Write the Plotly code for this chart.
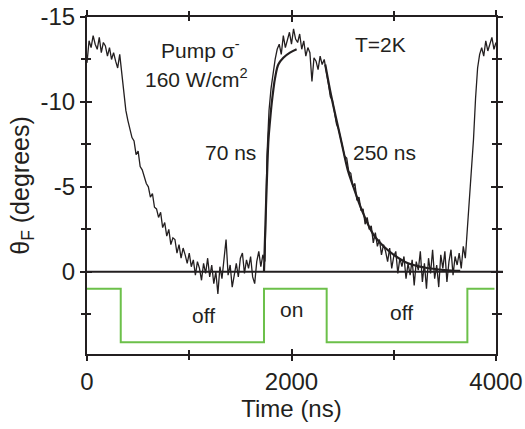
import plotly.graph_objects as go

# ---- data ----
t_step = 20  # ns sampling of the measured trace
theta_data = [
    -12.3, -13.6, -13.2, -13.9, -13.4, -13.1, -13.8, -12.9, -13.5, -13.3,   # 0-180
    -12.7, -13.2, -12.5, -12.9, -12.4, -12.0, -12.8, -11.7, -10.4, -9.5,    # 200-380
    -8.9, -8.4, -7.9, -7.7, -6.9, -7.1, -6.2, -6.0, -5.6, -5.2,             # 400-580
    -5.0, -4.4, -4.6, -3.8, -3.7, -3.2, -3.5, -2.6, -2.9, -2.1,             # 600-780
    -2.5, -1.6, -2.0, -1.9, -1.1, -1.6, -0.8, -1.4, -1.0, -0.5,             # 800-980
    -1.1, -0.3, -0.7, 0.2, -0.6, -0.2, 0.5, -0.5, 0.1, -0.8,                # 1000-1180
    0.3, -0.4, 0.7, 0.0, 1.3, -0.3, 0.4, -0.6, -1.9, 0.2,                   # 1200-1380
    -0.4, 0.9, 0.1, -0.5, 0.3, -0.8, -1.1, 0.1, -0.7, -0.2,                 # 1400-1580
    -0.9, 0.3, 0.7, -0.6, -1.2, -0.3, -1.0, -0.6, -6.8, -9.5,               # 1600-1780
    -10.8, -11.7, -12.5, -13.1, -13.4, -12.8, -13.9, -13.2, -13.6, -14.1,   # 1800-1980
    -13.4, -14.3, -13.7, -13.5, -14.0, -13.1, -13.6, -12.7, -13.2, -12.9,   # 2000-2180
    -11.2, -12.6, -12.4, -11.9, -12.7, -12.2, -12.5, -11.9, -11.1, -10.3,   # 2200-2380
    -10.1, -9.4, -8.7, -8.4, -7.8, -7.4, -6.8, -6.7, -5.9, -5.8,            # 2400-2580
    -5.0, -5.2, -4.2, -4.4, -3.6, -3.7, -2.8, -3.2, -2.5, -2.7,             # 2600-2780
    -1.7, -2.3, -1.5, -1.9, -1.0, -1.6, -1.2, -0.6, -1.4, -0.2,             # 2800-2980
    -0.9, -1.2, 0.1, -0.8, -0.3, -0.9, 0.4, -0.5, 0.2, -0.7,                # 3000-3180
    0.8, -0.6, -0.1, -1.2, 0.6, -0.5, 1.0, -0.8, 0.1, -1.3,                 # 3200-3380
    0.4, -0.4, 0.9, -1.0, -0.2, -1.2, 0.6, -0.6, -1.3, 0.2,                 # 3400-3580
    -0.9, -0.4, -1.1, -0.2, -1.5, -0.8, -2.5, -4.3, -6.3, -7.8,             # 3600-3780
    -10.2, -12.0, -12.8, -13.2, -12.7, -13.6, -13.0, -13.4, -13.8, -13.1,   # 3800-3980
    -13.5,                                                                   # 4000
]
time_data = [i * t_step for i in range(len(theta_data))]

# fit curves (70 ns rise, 250 ns decay)
rise_t = [1731, 1745, 1757, 1775, 1790, 1806, 1822, 1839, 1871, 1920, 1985, 2050]
rise_v = [0.0, -2.8, -5.0, -7.8, -8.9, -9.9, -10.7, -11.4, -12.2, -12.6, -12.9, -13.1]
decay_t = [2330, 2380, 2430, 2490, 2550, 2600, 2690, 2800, 2900, 3000, 3140, 3300, 3500, 3650]
decay_v = [-12.2, -10.6, -9.2, -7.6, -6.0, -5.1, -3.6, -2.2, -1.5, -1.0, -0.5, -0.25, -0.1, -0.05]

# pump on/off trace (drawn in lower part of axis)
pump_t = [0, 330, 330, 1731, 1731, 2344, 2344, 3720, 3720, 3985]
pump_v = [1.0, 1.0, 4.15, 4.15, 1.0, 1.0, 4.15, 4.15, 1.0, 1.0]

x_ticks = [0, 2000, 4000]
x_minor = [1000, 3000]
y_ticks = [-15, -10, -5, 0]
y_minor = [-12.5, -7.5, -2.5, 2.5]
y_range = [4.84, -15]
x_range = [0, 4000]

FONT = "Liberation Sans, Arial, sans-serif"
INK = "#231f20"
GREEN = "#6cc04a"

fig = go.Figure()
fig.add_trace(go.Scatter(x=pump_t, y=pump_v, mode="lines",
                         line=dict(color=GREEN, width=2), showlegend=False))
fig.add_trace(go.Scatter(x=time_data, y=theta_data, mode="lines",
                         line=dict(color=INK, width=1.3), showlegend=False))
fig.add_trace(go.Scatter(x=rise_t, y=rise_v, mode="lines",
                         line=dict(color=INK, width=2.2, shape="spline"), showlegend=False))
fig.add_trace(go.Scatter(x=decay_t, y=decay_v, mode="lines",
                         line=dict(color=INK, width=2.2, shape="spline"), showlegend=False))
# invisible trace on overlay axes so they render
fig.add_trace(go.Scatter(x=[None], y=[None], xaxis="x2", yaxis="y2", showlegend=False))

# zero line extending slightly past right axis
fig.add_shape(type="line", xref="paper", yref="y", x0=0, x1=1.017, y0=0, y1=0,
              line=dict(color=INK, width=2), layer="above")

axis_common = dict(showline=True, linecolor=INK, linewidth=2, mirror="allticks",
                   tickcolor=INK, tickwidth=1.5, showgrid=False, zeroline=False,
                   automargin=False,
                   tickfont=dict(family=FONT, size=24, color=INK))

fig.update_layout(
    width=525, height=429,
    margin=dict(l=87, r=29, t=17, b=75),
    paper_bgcolor="white", plot_bgcolor="white",
    font=dict(family=FONT, color=INK),
    xaxis=dict(range=x_range, tickvals=x_ticks, ticks="outside", ticklen=5,
               minor=dict(tickvals=x_minor, ticks="outside", ticklen=4, tickcolor=INK),
               title=dict(text="Time (ns)", font=dict(family=FONT, size=24, color=INK), standoff=4),
               **axis_common),
    yaxis=dict(range=y_range, tickvals=y_ticks, ticks="outside", ticklen=5,
               ticktext=["-15", "-10", "-5", "0"],
               minor=dict(tickvals=y_minor, ticks="outside", ticklen=4, tickcolor=INK),
               title=dict(text="θ<sub>F</sub> (degrees)", font=dict(family=FONT, size=25, color=INK),
                          standoff=4),
               **axis_common),
    xaxis2=dict(range=x_range, overlaying="x", tickvals=x_ticks, ticks="inside", ticklen=5,
                showticklabels=False, showline=False, showgrid=False, zeroline=False,
                tickcolor=INK, tickwidth=1.5, mirror="allticks",
                minor=dict(tickvals=x_minor, ticks="inside", ticklen=4, tickcolor=INK)),
    yaxis2=dict(range=y_range, overlaying="y", tickvals=y_ticks, ticks="inside", ticklen=5,
                showticklabels=False, showline=False, showgrid=False, zeroline=False,
                tickcolor=INK, tickwidth=1.5, mirror="allticks",
                minor=dict(tickvals=y_minor, ticks="inside", ticklen=4, tickcolor=INK)),
)

ann_font = dict(family=FONT, size=21, color=INK)
labels = [
    ("Pump σ<sup>-</sup>", 1110, -13.1),
    ("160 W/cm<sup>2</sup>", 1070, -11.4),
    ("T=2K", 2870, -13.4),
    ("70 ns", 1400, -7.0),
    ("250 ns", 2910, -7.0),
    ("off", 1140, 2.55),
    ("on", 2000, 2.2),
    ("off", 3080, 2.4),
]
for txt, x, y in labels:
    fig.add_annotation(x=x, y=y, text=txt, showarrow=False, font=ann_font,
                       xanchor="center", yanchor="middle")

fig.write_html("out.html")
